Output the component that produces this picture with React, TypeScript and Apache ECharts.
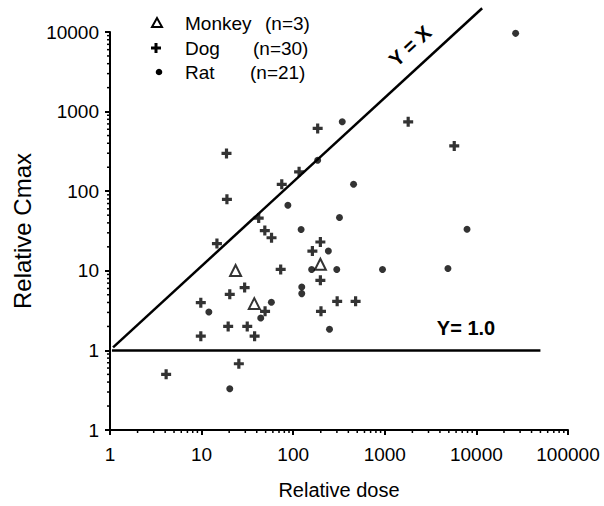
import React, { useEffect, useRef } from "react";
import * as echarts from "echarts";

// ---- data ----
const monkeyData: [number, number][] = [
  [23.5, 10.1],
  [198, 12.1],
  [37.6, 3.87],
];

const dogData: [number, number][] = [
  [18.7, 298], [18.9, 79], [75, 122], [116, 175], [185, 615],
  [42, 46], [49, 32], [58, 26], [14.7, 22], [73, 10.4],
  [198, 23], [162, 17.7], [198, 7.6], [29.5, 6.15], [9.8, 3.98],
  [49.3, 3.1], [302, 4.13], [480, 4.13], [201, 3.1], [19.5, 2.0],
  [31.5, 2.0], [9.8, 1.51], [37.9, 1.51], [25.5, 0.68], [4.1, 0.5],
  [1800, 745], [5730, 371], [20.3, 5.06],
];

const ratData: [number, number][] = [
  [456, 122], [87.5, 66.7], [320, 46.7], [122, 33], [242, 17.7],
  [159, 10.4], [299, 10.4], [944, 10.4], [124, 6.26], [124, 5.17],
  [12, 3.03], [57.8, 4.02], [44.2, 2.55], [249, 1.84], [20.3, 0.33],
  [343, 745], [185, 245], [26800, 9620], [7900, 33.3], [4890, 10.7],
];

const identityLine: [number, number][] = [
  [1.08, 1.09],
  [11550, 19900],
];
const unityLine: [number, number][] = [
  [1.05, 1.0],
  [50000, 1.0],
];

const xTickLabels = ["1", "10", "100", "1000", "10000", "100000"];
const yTickLabels = ["1", "1", "10", "100", "1000", "10000"];

const xMinorTicks = [2, 3, 4, 5, 6, 7, 8, 9, 20, 30, 40, 50, 60, 70, 80, 90,
  200, 300, 400, 500, 600, 700, 800, 900, 2000, 3000, 4000, 5000, 6000, 7000, 8000, 9000,
  20000, 30000, 40000, 50000, 60000, 70000, 80000, 90000];
const yMinorTicks = [0.2, 0.3, 0.4, 0.5, 0.6, 0.7, 0.8, 0.9, 2, 3, 4, 5, 6, 7, 8, 9,
  20, 30, 40, 50, 60, 70, 80, 90, 200, 300, 400, 500, 600, 700, 800, 900,
  2000, 3000, 4000, 5000, 6000, 7000, 8000, 9000];

const legendItems = [
  { name: "Monkey", count: "(n=3)" },
  { name: "Dog", count: "(n=30)" },
  { name: "Rat", count: "(n=21)" },
];

const FONT = "Liberation Sans, Arial, Helvetica, sans-serif";
const PLUS = "path://M3.4,0H6.6V3.4H10V6.6H6.6V10H3.4V6.6H0V3.4H3.4Z";

export default function App() {
  const ref = useRef<HTMLDivElement>(null);

  useEffect(() => {
    document.body.style.margin = "0";
    if (!ref.current) return;
    const chart = echarts.init(ref.current, null, { renderer: "svg" });

    const legendY = [23, 48, 72];
    const countX = [265, 253, 250];
    const graphics: any[] = [];
    // legend icons
    graphics.push({
      type: "polygon",
      shape: { points: [[157, legendY[0] - 5], [152, legendY[0] + 4], [162, legendY[0] + 4]] },
      style: { fill: "#fff", stroke: "#000", lineWidth: 2 },
    });
    graphics.push({ type: "rect", shape: { x: 151, y: legendY[1] - 1.5, width: 10, height: 3 }, style: { fill: "#000" } });
    graphics.push({ type: "rect", shape: { x: 154.5, y: legendY[1] - 5, width: 3, height: 10 }, style: { fill: "#000" } });
    graphics.push({ type: "circle", shape: { cx: 159, cy: legendY[2], r: 3.3 }, style: { fill: "#000" } });
    legendItems.forEach((it, i) => {
      graphics.push({
        type: "text", x: 185, y: legendY[i],
        style: { text: it.name, font: `19px ${FONT}`, fill: "#000", textVerticalAlign: "middle" },
      });
      graphics.push({
        type: "text", x: countX[i], y: legendY[i],
        style: { text: it.count, font: `19px ${FONT}`, fill: "#000", textVerticalAlign: "middle" },
      });
    });
    graphics.push({
      type: "text", x: 410, y: 46, rotation: 0.745,
      style: { text: "Y = X", font: `bold 20px ${FONT}`, fill: "#000", textAlign: "center", textVerticalAlign: "middle" },
    });
    graphics.push({
      type: "text", x: 466, y: 328,
      style: { text: "Y= 1.0", font: `bold 20px ${FONT}`, fill: "#000", textAlign: "center", textVerticalAlign: "middle" },
    });

    chart.setOption({
      animation: false,
      grid: { left: 110, right: 36, top: 32, bottom: 76, containLabel: false },
      xAxis: {
        type: "log", logBase: 10, min: 1, max: 100000,
        name: "Relative dose", nameLocation: "middle", nameGap: 50,
        nameTextStyle: { fontFamily: FONT, fontSize: 20, color: "#000" },
        axisLine: { lineStyle: { color: "#000", width: 2 } },
        axisTick: { show: true, length: 5, lineStyle: { color: "#000", width: 2 } },
        axisLabel: {
          margin: 15, color: "#000", fontFamily: FONT, fontSize: 19,
          formatter: (_v: number, i: number) => xTickLabels[i],
        },
        splitLine: { show: false },
      },
      yAxis: {
        type: "log", logBase: 10, min: 0.1, max: 10000,
        name: "Relative Cmax", nameLocation: "middle", nameGap: 76,
        nameTextStyle: { fontFamily: FONT, fontSize: 24, color: "#000" },
        axisLine: { lineStyle: { color: "#000", width: 2 } },
        axisTick: { show: true, length: 5, lineStyle: { color: "#000", width: 2 } },
        axisLabel: {
          margin: 11, color: "#000", fontFamily: FONT, fontSize: 19,
          formatter: (_v: number, i: number) => yTickLabels[i],
        },
        splitLine: { show: false },
      },
      graphic: graphics,
      series: [
        {
          type: "line", data: identityLine, symbol: "none", clip: false,
          lineStyle: { color: "#000", width: 2.5 }, silent: true,
        },
        {
          type: "line", data: unityLine, symbol: "none", clip: false,
          lineStyle: { color: "#000", width: 2.5 }, silent: true,
        },
        {
          name: "Monkey", type: "scatter", data: monkeyData, symbol: "triangle", symbolSize: 11,
          itemStyle: { color: "#fff", borderColor: "#000", borderWidth: 2 },
        },
        {
          name: "Dog", type: "scatter", data: dogData, symbol: PLUS, symbolSize: 10,
          itemStyle: { color: "#000" },
        },
        {
          name: "Rat", type: "scatter", data: ratData, symbol: "circle", symbolSize: 7,
          itemStyle: { color: "#000" },
        },
        {
          type: "custom", clip: false, silent: true,
          data: xMinorTicks.map((v) => [v, 0.1]),
          renderItem: (_p: any, api: any) => {
            const pt = api.coord([api.value(0), api.value(1)]);
            return { type: "line", shape: { x1: pt[0], y1: pt[1], x2: pt[0], y2: pt[1] + 3 }, style: { stroke: "#000", lineWidth: 1.5 } };
          },
        },
        {
          type: "custom", clip: false, silent: true,
          data: yMinorTicks.map((v) => [1, v]),
          renderItem: (_p: any, api: any) => {
            const pt = api.coord([api.value(0), api.value(1)]);
            return { type: "line", shape: { x1: pt[0] - 3, y1: pt[1], x2: pt[0], y2: pt[1] }, style: { stroke: "#000", lineWidth: 1.5 } };
          },
        },
      ],
    });

    return () => chart.dispose();
  }, []);

  return <div ref={ref} style={{ width: 604, height: 506 }} />;
}
